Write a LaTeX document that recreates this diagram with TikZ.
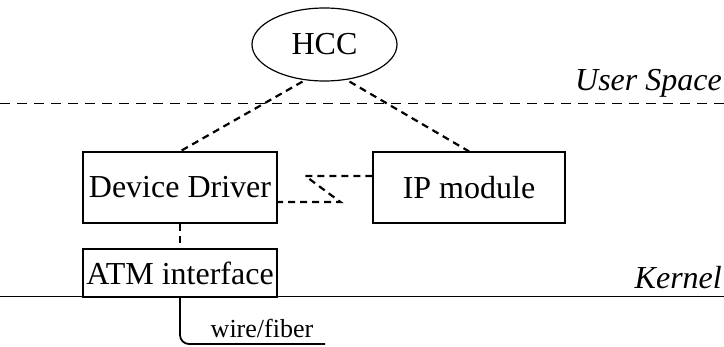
\documentclass[tikz,border=0pt]{standalone}
\usepackage{fontspec}
\setmainfont{Liberation Serif}
\usetikzlibrary{shapes.geometric}
\begin{document}
\begin{tikzpicture}[x=1pt,y=-1pt,
  font=\fontsize{32}{36}\selectfont,
  box/.style={draw, line width=1.2pt, rectangle, inner sep=0pt, minimum width=194pt},
  conn/.style={line width=2.2pt, dash pattern=on 7pt off 5pt},
  rule/.style={line width=1pt},
  wire/.style={line width=1.8pt, rounded corners=9pt},
  lbl/.style={inner sep=0pt, anchor=base east, font=\fontsize{32}{36}\selectfont\itshape}]
\useasboundingbox (0,0) rectangle (724,347);
\fill[white] (0,0) rectangle (724,347);

% layer rules
\coordinate (ul) at (0,104);
\coordinate (ur) at (724,104);
\coordinate (kl) at (0,297);
\coordinate (kr) at (724,297);
\draw[rule, dash pattern=on 10pt off 7pt] (ul) -- (ur);
\draw[rule] (kl) -- (kr);
\node[lbl] (us) at (722,91) {User Space};
\node[lbl] (kn) at (722,289) {Kernel};

% nodes
\node[draw, ellipse, line width=1.2pt, inner sep=0pt, minimum width=145pt, minimum height=73pt] (hcc) at (324.5,44.5) {\raisebox{-3pt}{HCC}};
\node[box, minimum height=71pt] (dd) at (180,187.5) {Device Driver};
\node[box, minimum width=192pt, minimum height=71pt] (ip) at (469,187.5) {IP module};
\node[box, minimum height=48pt] (atm) at (180,273) {ATM interface};

% connectors
\draw[conn] ([xshift=-22pt]hcc.south) -- (dd.north);
\draw[conn] ([xshift=25pt]hcc.south) -- (ip.north);
\draw[conn] ([yshift=11.5pt]ip.west) -- ++(-67,0) -- ++(35,26) -- ([yshift=-14.5pt]dd.east);
\draw[conn] (dd.south) -- (atm.north);

% wire
\coordinate (wend) at (325,344);
\draw[wire] (atm.south) |- (wend);
\node[inner sep=0pt, font=\fontsize{26}{30}\selectfont] (wf) at (262,328) {wire/fiber};
\end{tikzpicture}
\end{document}
